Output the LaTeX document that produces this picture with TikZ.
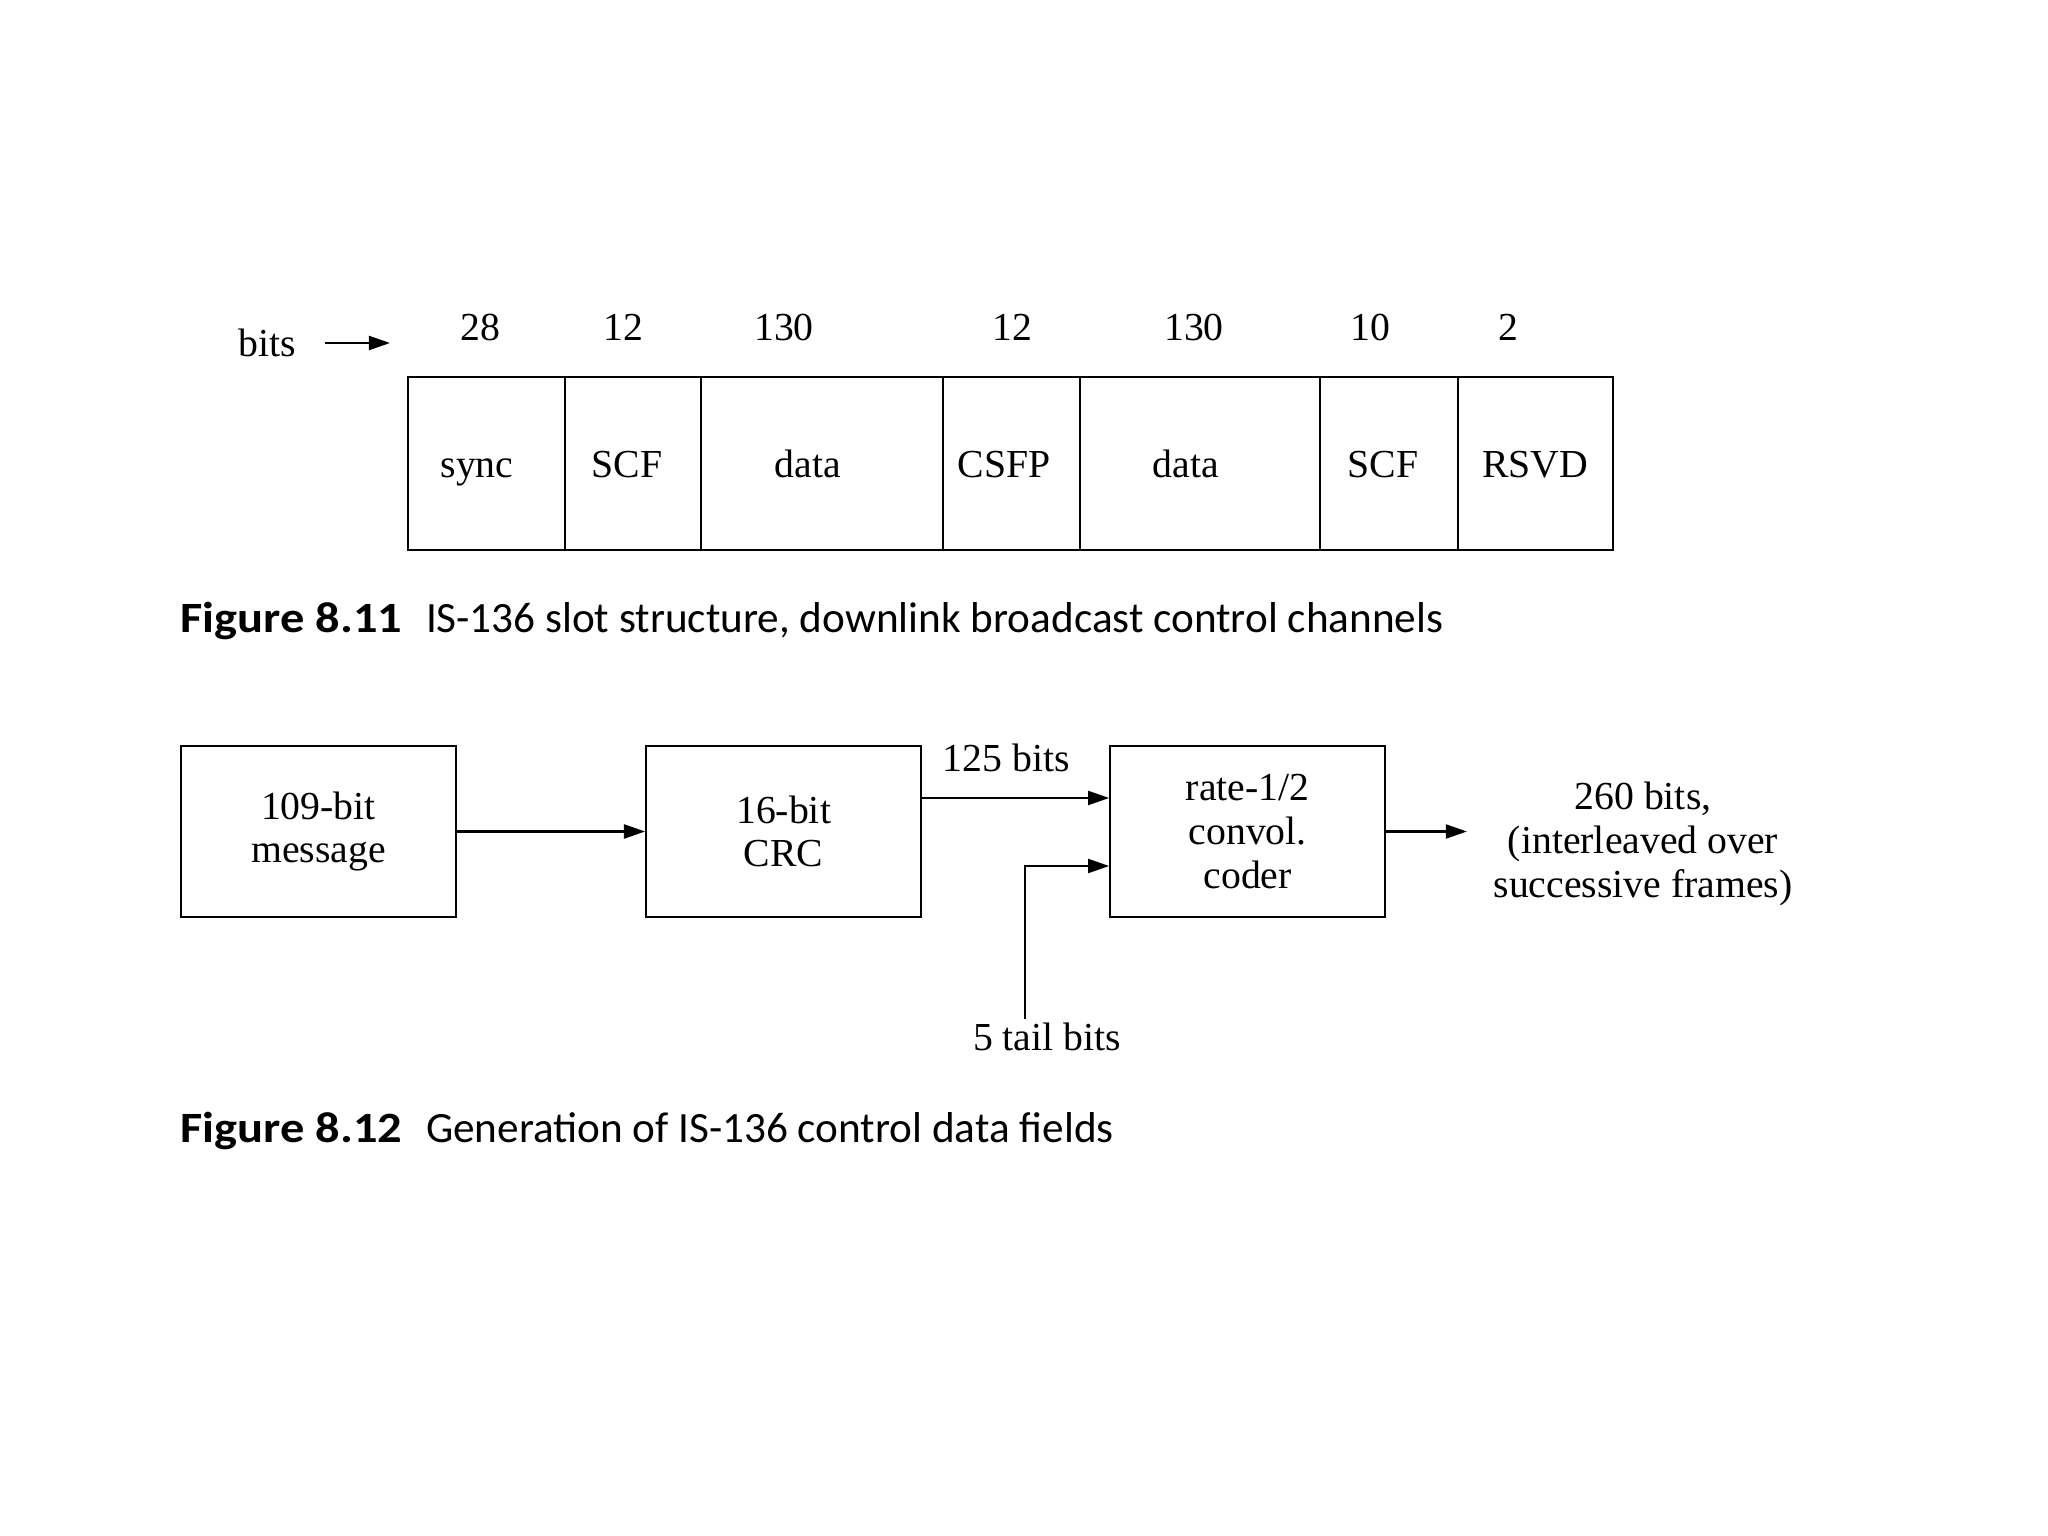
\documentclass[tikz,border=0pt]{standalone}
\usepackage{fontspec}
\setmainfont{Liberation Serif}
\newfontfamily\capfont{Carlito}
\newfontfamily\capbold{Carlito}[UprightFont={* Bold}, FakeStretch=1.12]
\usetikzlibrary{arrows.meta, positioning}

\tikzset{
  lbl/.style={font=\fontsize{11.3}{12.4}\selectfont, inner sep=1pt},
  field/.style={draw, line width=0.6pt, minimum height=1.73cm, inner sep=0pt},
  fieldtxt/.style={font=\fontsize{11.3}{12.4}\selectfont, inner sep=0pt, text height=0.68em, text depth=0.22em},
  blk/.style={draw, line width=0.6pt, minimum width=2.75cm, minimum height=1.71cm, align=center, font=\fontsize{11.3}{12.4}\selectfont},
  arr/.style={line width=0.6pt, -{Triangle[length=6pt, width=4pt]}},
  figcap/.style={font=\capfont\fontsize{12.3}{14}\selectfont, anchor=base west, inner sep=0pt},
}

\begin{document}
\begin{tikzpicture}
    \useasboundingbox (0,0) rectangle (20.48,-15.36);
    % Slot fields: left edge / right edge / name / x of name / bits / x of bits
    \foreach \xa/\xb/\lab/\lx/\nb/\nx [count=\i] in {4.08/5.65/sync/4.77/28/4.80, 5.65/7.01/SCF/6.27/12/6.23, 7.01/9.43/data/8.08/130/7.84, 9.43/10.80/CSFP/10.04/12/10.12, 10.80/13.20/data/11.86/130/11.94, 13.20/14.58/SCF/13.83/10/13.70, 14.58/16.13/RSVD/15.35/2/15.08} {
        \pgfmathsetmacro\fw{\xb-\xa}
        \node[field, minimum width=\fw cm] (f\i) at ({(\xa+\xb)/2}, -4.635) {};
        \node[fieldtxt] (l\i) at (\lx, -4.69) {\lab};
        \node[lbl] (n\i) at (\nx, -3.27) {\nb};
    }
    \node[lbl] (bits) at (2.67, -3.43) {bits};
    \coordinate (bitsend) at (3.90, -3.43);
    \draw[arr] ([xshift=0.25cm]bits.east) -- (bitsend);
    \node[figcap] (cap1) at (1.80, -6.33) {{\capbold Figure 8.11}\hspace{0.55em}IS-136 slot structure, downlink broadcast control channels};
    % Control data chain
    \node[blk] (msg) at (3.185, -8.315) {109-bit\\message};
    \node[blk, right=1.88cm of msg] (crc) {16-bit\\CRC};
    \node[blk, right=1.87cm of crc] (coder) {rate-1/2\\convol.\\coder};
    \node[lbl, align=center, inner xsep=0.26cm] (out) at (16.43, -8.44) {260 bits,\\(interleaved over\\successive frames)};
    \node[lbl] (tail) at (10.47, -10.37) {5 tail bits};
    \draw[arr] (msg) -- (crc);
    \draw[arr] ([yshift=0.335cm]crc.east) -- node[lbl, pos=0.45, above=6pt] (rate) {125 bits} ([yshift=0.335cm]coder.west);
    \draw[arr] ([xshift=-0.22cm]tail.north) |- ([yshift=-0.345cm]coder.west);
    \draw[arr] (coder.east) -- (coder.east -| out.west);
    \node[figcap] (cap2) at (1.80, -11.42) {{\capbold Figure 8.12}\hspace{0.55em}Generation of IS-136 control data fields};
\end{tikzpicture}
\end{document}
